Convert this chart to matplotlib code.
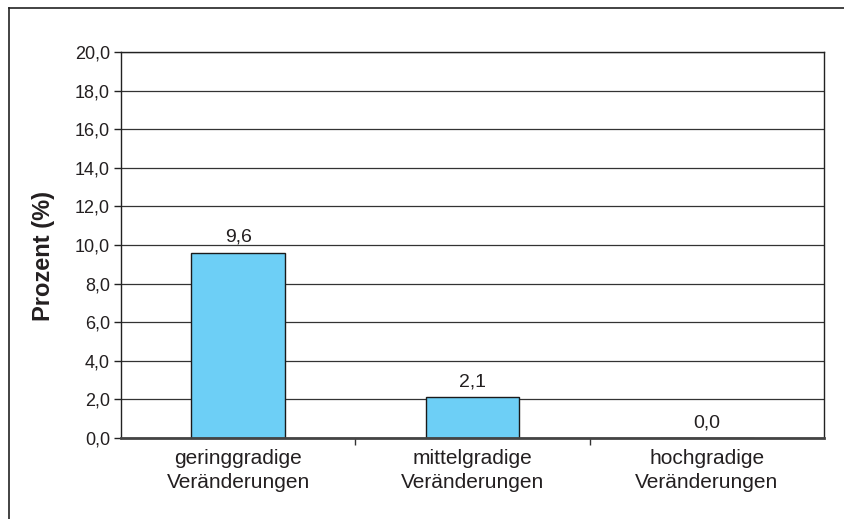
import matplotlib
matplotlib.use("Agg")
import matplotlib.pyplot as plt
from matplotlib.lines import Line2D
import numpy as np

categories = ["geringgradige\nVeränderungen", "mittelgradige\nVeränderungen", "hochgradige\nVeränderungen"]
values = [9.6, 2.1, 0.0]
yticks = [0, 2, 4, 6, 8, 10, 12, 14, 16, 18, 20]

plt.rcParams["font.family"] = ["Liberation Sans", "DejaVu Sans"]

fig = plt.figure(figsize=(8.44, 5.19), dpi=100)
ax = fig.add_axes([121 / 844, 81 / 519, 703 / 844, 386 / 519])

x = np.arange(len(categories))
ax.bar(x, values, width=0.4, color="#6DCFF6", edgecolor="#1a1a1a", linewidth=1.0, zorder=3)

for xi, v in zip(x, values):
    ax.text(xi, v + 0.35, f"{v:.1f}".replace(".", ","), ha="center", va="bottom",
            fontsize=14, color="#231f20")

ax.set_xlim(-0.5, 2.5)
ax.set_ylim(0, 20)
ax.set_yticks(yticks)
ax.set_yticklabels([f"{t:.1f}".replace(".", ",") for t in yticks], fontsize=13, color="#231f20")
ax.yaxis.grid(True, color="#333333", linewidth=0.9, zorder=0)
ax.tick_params(axis="y", length=5, width=1, color="#222222", pad=3)

ax.set_xticks(x)
ax.set_xticklabels(categories, fontsize=15, color="#231f20", linespacing=1.35)
ax.tick_params(axis="x", which="major", length=0, pad=8)
ax.set_xticks([0.5, 1.5], minor=True)
ax.tick_params(axis="x", which="minor", length=5, width=1, color="#333333")

for side in ["top", "right", "left"]:
    ax.spines[side].set_color("#222222")
    ax.spines[side].set_linewidth(1.0)
ax.spines["bottom"].set_color("#444444")
ax.spines["bottom"].set_linewidth(2.0)
ax.spines["bottom"].set_zorder(4)

ax.set_ylabel("Prozent (%)", fontsize=17, fontweight="bold", color="#231f20")
ax.yaxis.set_label_coords(-66 / 703, 0.5 - 11 / 386)

# outer frame (only top and left visible)
fig.add_artist(Line2D([9 / 844, 1.0], [1 - 8 / 519, 1 - 8 / 519], color="#222222", linewidth=1.2))
fig.add_artist(Line2D([9 / 844, 9 / 844], [0.0, 1 - 8 / 519], color="#222222", linewidth=1.2))

fig.savefig("out.png", dpi=100)
